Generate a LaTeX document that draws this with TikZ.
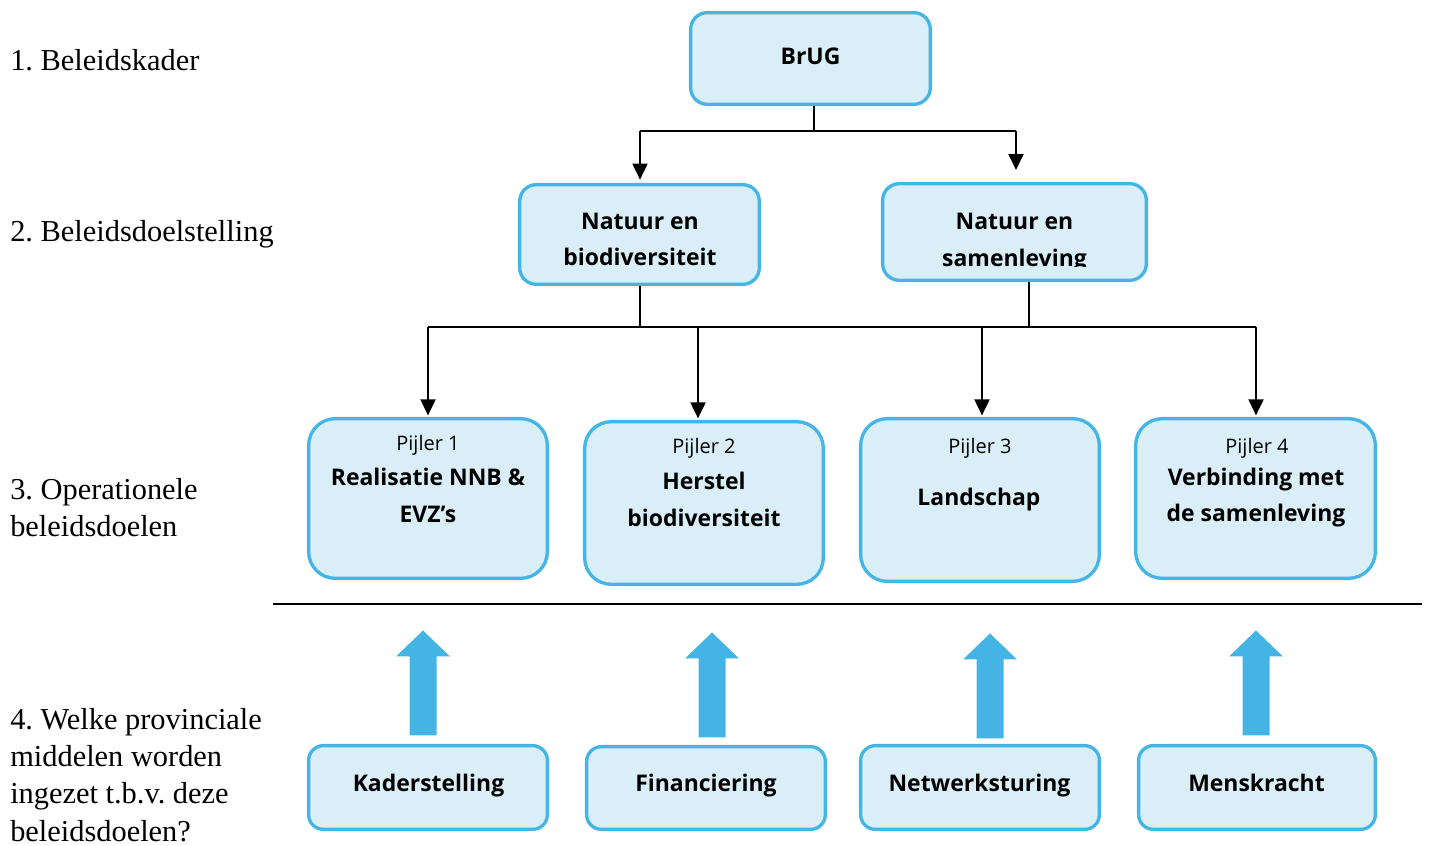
\documentclass[tikz,border=0pt]{standalone}
\usepackage{fontspec}
\setmainfont{Liberation Serif}
\newfontfamily\uifont{Open Sans}
\usetikzlibrary{arrows.meta,calc}
\definecolor{boxline}{RGB}{69,181,230}
\definecolor{boxfill}{RGB}{218,238,248}
\definecolor{blockblue}{RGB}{67,180,228}
% broad upward arrow whose shaft starts at the given coordinate
\newcommand\blockup[1]{%
  \fill[blockblue] ($(#1)+(-13.5,0)$) -- ++(0,-79) -- ++(-13.5,0) -- ++(27,-26)
    -- ++(27,26) -- ++(-13.5,0) -- ++(0,79) -- cycle;}
\begin{document}
\frenchspacing
\begin{tikzpicture}[x=0.75pt,y=-0.75pt,
  panel/.style={draw=boxline, fill=boxfill, line width=2.5pt, inner sep=0},
  topbox/.style={panel, rounded corners=12.5pt},
  pillar/.style={panel, rounded corners=20pt},
  meansbox/.style={panel, rounded corners=11pt},
  size/.style 2 args={minimum width={#1*0.75pt}, minimum height={#2*0.75pt}},
  conn/.style={draw=black, line width=1.5pt},
  arrowconn/.style={conn, -{Triangle[width=11.25pt,length=12pt]}},
  lvl/.style={font=\fontsize{22.8}{28}\selectfont, anchor=base west, inner sep=0, align=left},
  btxt/.style={font=\uifont\bfseries\fontsize{17.2}{27.5}\selectfont, anchor=base, inner sep=0, align=center},
  ptxt/.style={font=\uifont\fontsize{15}{18}\selectfont, anchor=base, inner sep=0}]
\useasboundingbox (0,0) rectangle (1429,846);

% level labels (multi-line nodes sit on the baseline of their last line)
\node[lvl] (lv1) at (10,70) {1. Beleidskader};
\node[lvl] (lv2) at (10,241.7) {2. Beleidsdoelstelling};
\node[lvl] (lv3) at (10,536.7) {3. Operationele\\beleidsdoelen};
\node[lvl] (lv4) at (10,841) {4. Welke provinciale\\middelen worden\\ingezet t.b.v. deze\\beleidsdoelen?};

% policy framework and goals
\node[topbox, size={239.7}{91.7}] (brug) at (810.5,58.5) {};
\node[btxt] (brugt) at (810.5,64) {BrUG};
\node[topbox, size={239.7}{99.7}] (nb) at (639.5,234.5) {};
\node[btxt] (nbt) at (640,265.7) {Natuur en\\biodiversiteit};
\node[topbox, size={263.7}{96.7}] (ns) at (1014.5,232) {};
\node[btxt] (nst) at (1014.5,229) {Natuur en};
\begin{scope}
  \clip (870,240) rectangle (1160,266);
  \node[btxt] (nst2) at (1014.5,266) {samenleving};
\end{scope}

% pillars
\node[pillar, size={238.7}{159.7}] (p1) at (428,498.5) {};
\node[pillar, size={238.7}{162.7}] (p2) at (704,503) {};
\node[pillar, size={238.7}{162.7}] (p3) at (980,500) {};
\node[pillar, size={239.7}{159.7}] (p4) at (1255.5,498.5) {};
\node[ptxt] (p1n) at (428,450.7) {Pijler 1};
\node[btxt] (p1t) at (428,522.3) {Realisatie NNB \&\\EVZ’s};
\node[ptxt] (p2n) at (704,453.3) {Pijler 2};
\node[btxt] (p2t) at (704,526) {Herstel\\biodiversiteit};
\node[ptxt] (p3n) at (980,453.3) {Pijler 3};
\node[btxt] (p3t) at (979,505) {Landschap};
\node[ptxt] (p4n) at (1257,453.3) {Pijler 4};
\node[btxt] (p4t) at (1256,521.7) {Verbinding met\\de samenleving};

% provincial means
\node[meansbox, size={238.7}{83.7}] (k1) at (428,787.5) {};
\node[meansbox, size={238.7}{82.7}] (k2) at (706,788) {};
\node[meansbox, size={238.7}{83.7}] (k3) at (980,787.5) {};
\node[meansbox, size={236.7}{83.7}] (k4) at (1257,787.5) {};
\node[btxt] (k1t) at (428.5,791.7) {Kaderstelling};
\node[btxt] (k2t) at (706,791.7) {Financiering};
\node[btxt] (k3t) at (979.5,791.7) {Netwerksturing};
\node[btxt] (k4t) at (1256.5,791.7) {Menskracht};

% tree connectors
\coordinate (brugout) at ($(brug.south)+(3.5,0)$);
\coordinate (bus1L) at (640,131);
\coordinate (bus1R) at (1016,131);
\coordinate (nsin) at (1016,170);
\draw[conn] (brugout) -- (brugout |- bus1L);
\draw[conn] (bus1L) -- (bus1R);
\draw[arrowconn, shorten >=2.5pt] (bus1L) -- (bus1L |- nb.north);
\draw[arrowconn] (bus1R) -- (nsin);

\coordinate (nsout) at ($(ns.south)+(14.5,0)$);
\coordinate (bus2L) at (428,326.5);
\coordinate (bus2R) at (1256,326.5);
\coordinate (p2in) at ($(p2.north)+(-6,0)$);
\coordinate (p3in) at ($(p3.north)+(2,0)$);
\draw[conn] (nb.south) -- (nb.south |- bus2L);
\draw[conn] (nsout) -- (nsout |- bus2L);
\draw[conn] (bus2L) -- (bus2R);
\draw[arrowconn, shorten >=1.2pt] (bus2L) -- (bus2L |- p1.north);
\draw[arrowconn, shorten >=1.2pt] (p2in |- bus2L) -- (p2in);
\draw[arrowconn, shorten >=1.2pt] (p3in |- bus2L) -- (p3in);
\draw[arrowconn, shorten >=1.2pt] (bus2R) -- (bus2R |- p4.north);

% separator between goals and means
\coordinate (sepL) at (273,604);
\coordinate (sepR) at (1422,604);
\draw[line width=1.5pt] (sepL) -- (sepR);

% means feeding the pillars
\coordinate (a1) at ($(k1.north)+(-5,-8.5)$);
\coordinate (a2) at ($(k2.north)+(6,-7.5)$);
\coordinate (a3) at ($(k3.north)+(10,-5.5)$);
\coordinate (a4) at ($(k4.north)+(-1,-8.5)$);
\blockup{a1}
\blockup{a2}
\blockup{a3}
\blockup{a4}
\end{tikzpicture}
\end{document}
